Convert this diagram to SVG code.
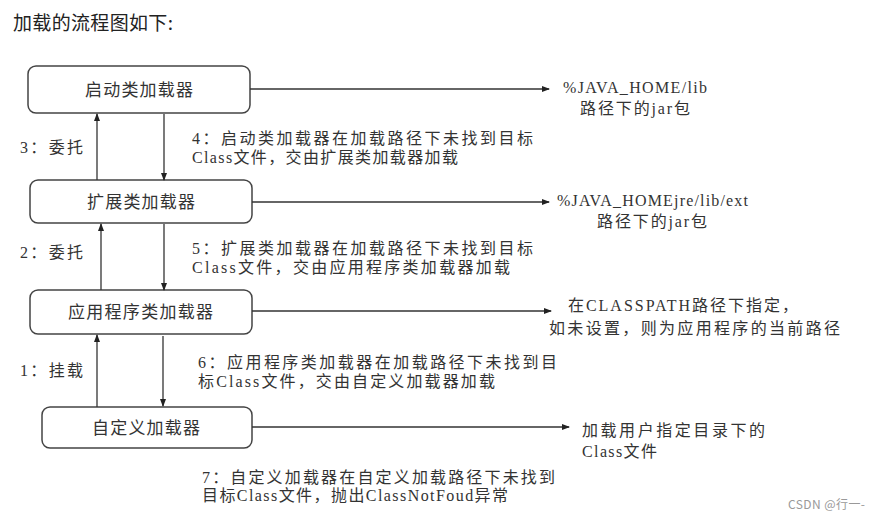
<svg xmlns="http://www.w3.org/2000/svg" width="880" height="520" viewBox="0 0 880 520">
<style>
.t{font-family:"Liberation Serif","Noto Sans CJK SC",serif;font-size:16px;fill:#333}
.b{font-family:"Liberation Serif","Noto Sans CJK SC",serif;font-size:17px;fill:#333}
.box{fill:#fff;stroke:#444;stroke-width:1.5}
.ln{stroke:#333;stroke-width:1.3;fill:none;marker-end:url(#ah)}
</style>
<defs>
<marker id="ah" markerUnits="userSpaceOnUse" markerWidth="8" markerHeight="6" refX="7" refY="3" orient="auto">
<path d="M0,0 L8,3 L0,6 Z" fill="#222"/>
</marker>
</defs>
<rect width="880" height="520" fill="#fff"/>
<text x="13" y="30" font-family="'Noto Sans CJK SC',sans-serif" font-size="19" fill="#222" textLength="160" lengthAdjust="spacing">加载的流程图如下:</text>

<g id="n1"><rect class="box" x="28" y="66" width="222" height="47" rx="8"/><text class="b" x="85" y="96" textLength="108" lengthAdjust="spacing">启动类加载器</text></g>
<g id="n2"><rect class="box" x="30" y="180" width="222" height="43" rx="8"/><text class="b" x="87" y="208" textLength="108" lengthAdjust="spacing">扩展类加载器</text></g>
<g id="n3"><rect class="box" x="30" y="290" width="222" height="44" rx="8"/><text class="b" x="68" y="318" textLength="145" lengthAdjust="spacing">应用程序类加载器</text></g>
<g id="n4"><rect class="box" x="42" y="407" width="210" height="41" rx="8"/><text class="b" x="92" y="434" textLength="108" lengthAdjust="spacing">自定义加载器</text></g>

<g id="connectors">
<line class="ln" x1="97" y1="180" x2="97" y2="114"/>
<line class="ln" x1="164" y1="114" x2="164" y2="180"/>
<line class="ln" x1="101" y1="290" x2="101" y2="224"/>
<line class="ln" x1="164" y1="224" x2="164" y2="290"/>
<line class="ln" x1="97" y1="407" x2="97" y2="335"/>
<line class="ln" x1="163" y1="336" x2="163" y2="406"/>
<line class="ln" x1="250" y1="89" x2="549" y2="89"/>
<line class="ln" x1="252" y1="202" x2="549" y2="202"/>
<line class="ln" x1="252" y1="311" x2="551" y2="311"/>
<line class="ln" x1="252" y1="427" x2="569" y2="427"/>
</g>

<g id="labels">
<text class="t" x="20" y="153" textLength="63" lengthAdjust="spacing">3：委托</text>
<text class="t" x="20" y="258" textLength="63" lengthAdjust="spacing">2：委托</text>
<text class="t" x="20" y="376" textLength="63" lengthAdjust="spacing">1：挂载</text>

<text class="t" x="192" y="144" textLength="341" lengthAdjust="spacing">4：启动类加载器在加载路径下未找到目标</text>
<text class="t" x="192" y="163" textLength="266" lengthAdjust="spacing">Class文件，交由扩展类加载器加载</text>
<text class="t" x="192" y="254" textLength="341" lengthAdjust="spacing">5：扩展类加载器在加载路径下未找到目标</text>
<text class="t" x="192" y="273" textLength="318" lengthAdjust="spacing">Class文件，交由应用程序类加载器加载</text>
<text class="t" x="198" y="368" textLength="359" lengthAdjust="spacing">6：应用程序类加载器在加载路径下未找到目</text>
<text class="t" x="198" y="387" textLength="297" lengthAdjust="spacing">标Class文件，交由自定义加载器加载</text>
<text class="t" x="202" y="483" textLength="353" lengthAdjust="spacing">7：自定义加载器在自定义加载路径下未找到</text>
<text class="t" x="202" y="501" textLength="306" lengthAdjust="spacing">目标Class文件，抛出ClassNotFoud异常</text>

<text class="t" x="563" y="93" textLength="144" lengthAdjust="spacing">%JAVA_HOME/lib</text>
<text class="t" x="580" y="114" textLength="110" lengthAdjust="spacing">路径下的jar包</text>
<text class="t" x="557" y="206" textLength="191" lengthAdjust="spacing">%JAVA_HOMEjre/lib/ext</text>
<text class="t" x="597" y="227" textLength="110" lengthAdjust="spacing">路径下的jar包</text>
<text class="t" x="568" y="311" textLength="230" lengthAdjust="spacing">在CLASSPATH路径下指定，</text>
<text class="t" x="549" y="334" textLength="291" lengthAdjust="spacing">如未设置，则为应用程序的当前路径</text>
<text class="t" x="582" y="436" textLength="183" lengthAdjust="spacing">加载用户指定目录下的</text>
<text class="t" x="582" y="457" textLength="75" lengthAdjust="spacing">Class文件</text>

<text x="788" y="509" font-family="'Noto Sans CJK SC',sans-serif" font-size="12" fill="#999" textLength="77" lengthAdjust="spacing">CSDN @行一-</text>
</g>
</svg>
